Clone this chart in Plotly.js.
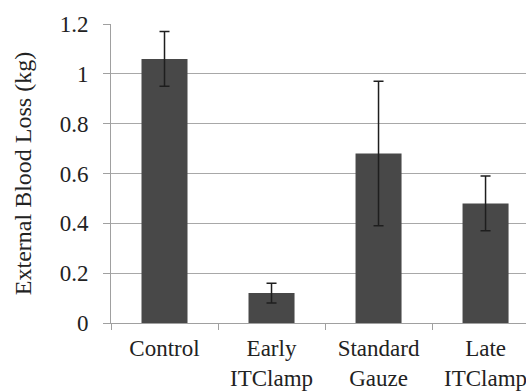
<!DOCTYPE html>
<html>
<head>
<meta charset="utf-8">
<script src="https://cdn.plot.ly/plotly-3.0.1.min.js"></script>
<style>
html,body{margin:0;padding:0;background:#fff;}
#chart{width:526px;height:391px;}
</style>
</head>
<body>
<div id="chart"></div>
<script>
const categories = ["Control", "Early<br>ITClamp", "Standard<br>Gauze", "Late<br>ITClamp"];
const bloodLoss = [1.06, 0.12, 0.68, 0.48];
const errorPlusMinus = [0.11, 0.04, 0.29, 0.11];
const yTickValues = [0, 0.2, 0.4, 0.6, 0.8, 1.0, 1.2];
const yTickLabels = ["0", "0.2", "0.4", "0.6", "0.8", "1", "1.2"];

const font = "Liberation Serif";

Plotly.newPlot("chart", [{
  type: "bar",
  x: categories,
  y: bloodLoss,
  width: 0.43,
  marker: {color: "#484848", line: {width: 0}},
  error_y: {type: "data", array: errorPlusMinus, visible: true, color: "#1e1e1e", thickness: 1.5, width: 5}
}], {
  width: 526, height: 391,
  margin: {l: 111, r: 0, t: 24, b: 68},
  paper_bgcolor: "#fff", plot_bgcolor: "#fff",
  showlegend: false,
  font: {family: font, color: "#222", size: 23},
  xaxis: {
    type: "category",
    range: [-0.5, 3.378],
    showline: true, linecolor: "#a0a0a0", linewidth: 1,
    ticks: "outside", tickson: "boundaries", ticklen: 6, tickcolor: "#a0a0a0",
    tickfont: {family: font, size: 23, color: "#222"},
    ticklabelstandoff: 4,
    showgrid: false, zeroline: false, automargin: false
  },
  yaxis: {
    range: [0, 1.2],
    tickvals: yTickValues, ticktext: yTickLabels,
    showline: true, linecolor: "#a0a0a0", linewidth: 1,
    ticks: "outside", ticklen: 7, tickcolor: "#a0a0a0",
    ticklabelstandoff: 10,
    showgrid: true, gridcolor: "#a8a8a8", gridwidth: 1,
    zeroline: false, automargin: false,
    tickfont: {family: font, size: 23, color: "#222"},
    title: {text: "External Blood Loss (kg)", font: {family: font, size: 24, color: "#222"}, standoff: 21}
  }
}, {displayModeBar: false});
</script>
</body>
</html>
